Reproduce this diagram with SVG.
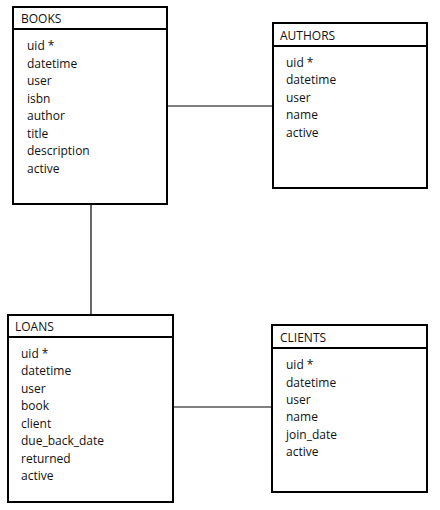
<svg xmlns="http://www.w3.org/2000/svg" width="440" height="510" viewBox="0 0 440 510">
<style>
.box{fill:#fff;stroke:#000;stroke-width:2}
.sep{stroke:#000;stroke-width:2}
.con{stroke:#000;stroke-width:1.2;fill:none}
text{font-family:"Open Sans","Noto Sans",sans-serif;font-size:12px;fill:#111}
</style>
<rect width="440" height="510" fill="#fff"/>
<g id="connectors">
<line class="con" x1="167" y1="106" x2="273" y2="106"/>
<line class="con" x1="91" y1="204" x2="91" y2="315"/>
<line class="con" x1="173" y1="407" x2="272" y2="407"/>
</g>
<g id="books">
<rect class="box" x="13" y="7" width="154" height="197"/>
<line class="sep" x1="13" y1="29" x2="167" y2="29"/>
<text x="21" y="23">BOOKS</text>
<text x="27" y="50">uid *</text>
<text x="27" y="68">datetime</text>
<text x="27" y="85">user</text>
<text x="27" y="103">isbn</text>
<text x="27" y="120">author</text>
<text x="27" y="138">title</text>
<text x="27" y="155">description</text>
<text x="27" y="173">active</text>
</g>
<g id="authors">
<rect class="box" x="273" y="23" width="154" height="165"/>
<line class="sep" x1="273" y1="46" x2="427" y2="46"/>
<text x="280" y="40">AUTHORS</text>
<text x="286" y="67">uid *</text>
<text x="286" y="84">datetime</text>
<text x="286" y="102">user</text>
<text x="286" y="119">name</text>
<text x="286" y="137">active</text>
</g>
<g id="loans">
<rect class="box" x="8" y="315" width="165" height="187"/>
<line class="sep" x1="8" y1="337" x2="173" y2="337"/>
<text x="15" y="331">LOANS</text>
<text x="21" y="358">uid *</text>
<text x="21" y="375">datetime</text>
<text x="21" y="393">user</text>
<text x="21" y="410">book</text>
<text x="21" y="428">client</text>
<text x="21" y="445">due_back_date</text>
<text x="21" y="463">returned</text>
<text x="21" y="480">active</text>
</g>
<g id="clients">
<rect class="box" x="272" y="325" width="155" height="167"/>
<line class="sep" x1="272" y1="348" x2="427" y2="348"/>
<text x="280" y="342">CLIENTS</text>
<text x="286" y="369">uid *</text>
<text x="286" y="387">datetime</text>
<text x="286" y="404">user</text>
<text x="286" y="421">name</text>
<text x="286" y="439">join_date</text>
<text x="286" y="456">active</text>
</g>
</svg>
